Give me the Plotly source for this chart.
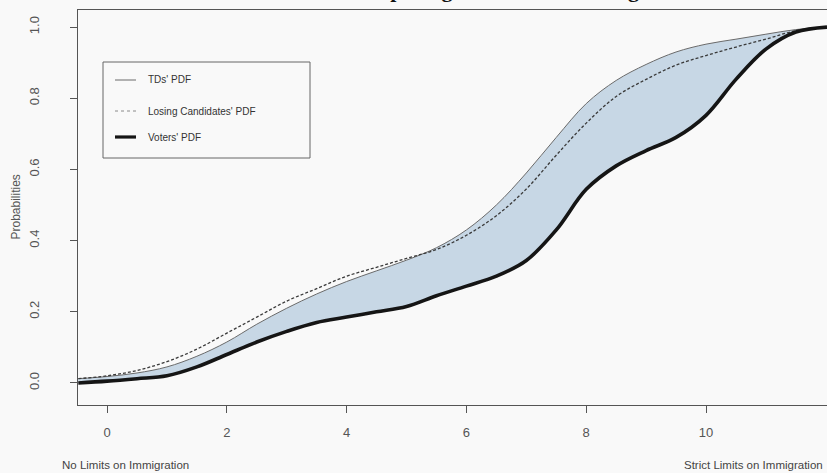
import plotly.graph_objects as go

# Position on the immigration scale (0 = no limits, 10 = strict limits)
positions = [-0.48, 0.0, 0.5, 1.0, 1.5, 2.0, 2.5, 3.0, 3.5, 4.0, 4.5, 5.0, 5.5,
             6.0, 6.5, 7.0, 7.5, 8.0, 8.5, 9.0, 9.5, 10.0, 10.5, 11.0, 11.5, 12.02]

# Cumulative probabilities for each group
tds_cdf = [0.012, 0.018, 0.028, 0.045, 0.075, 0.115, 0.165, 0.21, 0.25, 0.285, 0.315,
           0.345, 0.38, 0.43, 0.5, 0.59, 0.69, 0.785, 0.85, 0.895, 0.93, 0.952, 0.966,
           0.98, 0.993, 1.0]
losing_cdf = [0.012, 0.02, 0.035, 0.06, 0.095, 0.14, 0.185, 0.23, 0.265, 0.3, 0.325,
              0.35, 0.375, 0.415, 0.47, 0.545, 0.64, 0.73, 0.805, 0.853, 0.893, 0.92,
              0.944, 0.966, 0.99, 1.0]
voters_cdf = [0.0, 0.005, 0.012, 0.02, 0.045, 0.08, 0.115, 0.145, 0.17, 0.185, 0.2,
              0.215, 0.245, 0.272, 0.3, 0.344, 0.43, 0.544, 0.61, 0.653, 0.69, 0.752,
              0.853, 0.938, 0.986, 1.0]

x_ticks = [0, 2, 4, 6, 8, 10]
y_ticks = [0.0, 0.2, 0.4, 0.6, 0.8, 1.0]
y_tick_text = ["0.0", "0.2", "0.4", "0.6", "0.8", "1.0"]

legend_labels = ["TDs' PDF", "Losing Candidates' PDF", "Voters' PDF"]

W, H = 827, 473
ML, MR, MT, MB = 78, 0, 10, 68
PW, PH = W - ML - MR, H - MT - MB

BG = "#f9f9f9"
FILL = "#c7d7e5"
AXIS = "#555555"
SANS = "Liberation Sans Narrow, Arial Narrow, Liberation Sans, Arial, sans-serif"


def px_x(p):
    return (p - ML) / PW


def px_y(p):
    return (H - MB - p) / PH


fig = go.Figure()

# Shaded band between voters and TDs
fig.add_trace(go.Scatter(x=positions, y=voters_cdf, mode="lines",
                         line=dict(width=0, shape="spline", color="rgba(0,0,0,0)"),
                         showlegend=False, hoverinfo="skip"))
fig.add_trace(go.Scatter(x=positions, y=tds_cdf, mode="lines", fill="tonexty",
                         fillcolor=FILL,
                         line=dict(width=1, shape="spline", color="#6a6a6a"),
                         showlegend=False))
fig.add_trace(go.Scatter(x=positions, y=losing_cdf, mode="lines",
                         line=dict(width=1.3, shape="spline", color="#3a3a3a",
                                   dash="3px,2px"),
                         showlegend=False))
fig.add_trace(go.Scatter(x=positions, y=voters_cdf, mode="lines",
                         line=dict(width=3.6, shape="spline", color="#151515"),
                         showlegend=False))

axis_common = dict(showgrid=False, zeroline=False, showline=True, linecolor=AXIS,
                   linewidth=1, mirror=True, ticks="outside", ticklen=7,
                   tickcolor=AXIS, tickfont=dict(family=SANS, size=13, color="#555555"))

fig.update_xaxes(range=[-0.485, 12.02], tickvals=x_ticks,
                 ticklabelstandoff=8, **axis_common)
fig.update_yaxes(range=[-0.062, 1.048], tickvals=y_ticks, ticktext=y_tick_text,
                 tickangle=-90, ticklabelstandoff=26, **axis_common)

annotations = [
    dict(text="Probabilities", x=px_x(15), y=0.5, xref="paper", yref="paper",
         textangle=-90, showarrow=False, xanchor="center", yanchor="middle",
         font=dict(family="Liberation Sans, Arial, sans-serif", size=12, color="#555555")),
    dict(text="No Limits on Immigration", x=px_x(60), y=px_y(465), xref="paper",
         yref="paper", showarrow=False, xanchor="left", yanchor="middle",
         font=dict(family=SANS, size=11.5, color="#444444")),
    dict(text="Strict Limits on Immigration", x=px_x(825), y=px_y(465), xref="paper",
         yref="paper", showarrow=False, xanchor="right", yanchor="middle",
         font=dict(family=SANS, size=11.5, color="#444444")),
    dict(text="<b>Comparing Positions on Immigration</b>", x=px_x(520), y=px_y(4),
         xref="paper", yref="paper", showarrow=False, xanchor="center",
         yanchor="bottom",
         font=dict(family="Liberation Serif, Times New Roman, serif", size=22,
                   color="#111111")),
]

# Legend box with sample lines
shapes = [dict(type="rect", xref="paper", yref="paper",
               x0=px_x(103), x1=px_x(310), y0=px_y(62), y1=px_y(158),
               line=dict(color="#666666", width=1), fillcolor="rgba(0,0,0,0)")]
legend_rows = [80, 111, 137]
legend_styles = [dict(color="#6a6a6a", width=1),
                 dict(color="#8a8a8a", width=1, dash="dot"),
                 dict(color="#151515", width=3.2)]
for label, row, style in zip(legend_labels, legend_rows, legend_styles):
    shapes.append(dict(type="line", xref="paper", yref="paper",
                       x0=px_x(115), x1=px_x(136), y0=px_y(row), y1=px_y(row),
                       line=style))
    annotations.append(dict(text=label, x=px_x(146), y=px_y(row), xref="paper",
                            yref="paper", showarrow=False, xanchor="left",
                            yanchor="middle",
                            font=dict(family="Liberation Sans, Arial, sans-serif",
                                      size=10, color="#333333")))

fig.update_layout(width=W, height=H, margin=dict(l=ML, r=MR, t=MT, b=MB),
                  paper_bgcolor=BG, plot_bgcolor=BG, showlegend=False,
                  annotations=annotations, shapes=shapes)

fig.write_html("out.html")
